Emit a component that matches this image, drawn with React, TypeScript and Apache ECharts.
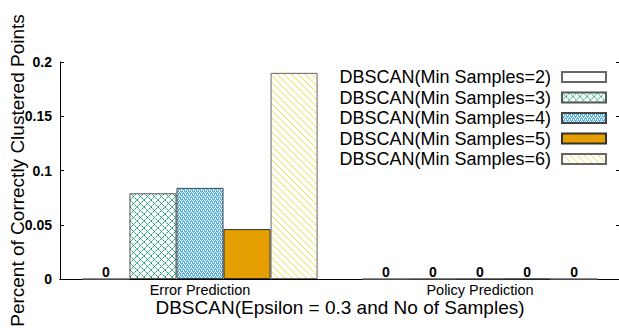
import React, { useEffect, useRef } from "react";
import * as echarts from "echarts";

const categories = ["Error Prediction", "Policy Prediction"];
const seriesNames = [
  "DBSCAN(Min Samples=2)",
  "DBSCAN(Min Samples=3)",
  "DBSCAN(Min Samples=4)",
  "DBSCAN(Min Samples=5)",
  "DBSCAN(Min Samples=6)",
];
const ms2 = [0, 0];
const ms3 = [0.079, 0];
const ms4 = [0.084, 0];
const ms5 = [0.046, 0];
const ms6 = [0.19, 0];
const yTicks = [0, 0.05, 0.1, 0.15, 0.2];
const xTitle = "DBSCAN(Epsilon = 0.3 and No of Samples)";
const yTitle = "Percent of Correctly Clustered Points";

function makeTile(size: number, draw: (set: (x: number, y: number, c: number[]) => void) => void, bg: number[]) {
  const c = document.createElement("canvas");
  c.width = size;
  c.height = size;
  const ctx = c.getContext("2d")!;
  const img = ctx.createImageData(size, size);
  const set = (x: number, y: number, col: number[]) => {
    const xx = ((x % size) + size) % size;
    const yy = ((y % size) + size) % size;
    const i = (yy * size + xx) * 4;
    img.data[i] = col[0];
    img.data[i + 1] = col[1];
    img.data[i + 2] = col[2];
    img.data[i + 3] = 255;
  };
  for (let y = 0; y < size; y++) for (let x = 0; x < size; x++) set(x, y, bg);
  draw(set);
  ctx.putImageData(img, 0, 0);
  return c;
}

export default function App() {
  const ref = useRef<HTMLDivElement>(null);
  useEffect(() => {
    if (!ref.current) return;
    const chart = echarts.init(ref.current, undefined, { renderer: "svg" });
    const white = [255, 255, 255];
    const green = [20, 160, 115];
    const lightGreen = [120, 200, 170];
    const blue = [86, 180, 233];
    const yellow = [240, 228, 66];

    const greenTile = makeTile(7, (set) => {
      for (let i = 0; i < 7; i++) {
        const col = i % 2 === 0 ? green : lightGreen;
        set(i, i, col);
        set(i, 7 - i, col);
      }
    }, white);
    const blueTile = makeTile(4, (set) => {
      set(0, 0, white);
      set(2, 0, white);
      set(1, 1, white);
      set(1, 2, white);
      set(3, 2, white);
      set(3, 3, white);
    }, blue);
    const yellowTile = makeTile(7, (set) => {
      for (let i = 0; i < 7; i++) {
        set(i, i, yellow);
      }
    }, white);

    const fills: any[] = [
      "#ffffff",
      { image: greenTile, repeat: "repeat" },
      { image: blueTile, repeat: "repeat" },
      "#e69f00",
      { image: yellowTile, repeat: "repeat" },
    ];
    const borders = ["#666", "#555", "#444", "#333", "#666"];
    const datasets = [ms2, ms3, ms4, ms5, ms6];

    chart.setOption({
      animation: false,
      backgroundColor: "#ffffff",
      textStyle: { fontFamily: "Liberation Sans, Arial, sans-serif", color: "#000" },
      grid: { left: 60, right: -1, top: 62, bottom: 51, containLabel: false, outerBoundsMode: "none" },
      legend: {
        orient: "vertical",
        right: 7,
        top: 63,
        align: "right",
        itemWidth: 44,
        itemHeight: 10,
        itemGap: 2.5,
        icon: "rect",
        textStyle: { fontSize: 18, color: "#000", padding: [0, 6, 0, 0] },
        data: seriesNames,
      },
      xAxis: [
        {
          type: "category",
          data: categories,
          position: "bottom",
          axisLine: { lineStyle: { color: "#000", width: 1 } },
          axisTick: { inside: true, alignWithLabel: true, length: 4, lineStyle: { color: "#000" } },
          axisLabel: { fontSize: 14.5, color: "#000", margin: 3, lineHeight: 15 },
          name: xTitle,
          nameLocation: "middle",
          nameGap: 18,
          nameMoveOverlap: false,
          nameTextStyle: { fontSize: 19, color: "#000", lineHeight: 20 },
        },
        {
          type: "category",
          data: categories,
          position: "top",
          axisLine: { lineStyle: { color: "#000", width: 1 } },
          axisTick: { inside: true, alignWithLabel: true, length: 4, lineStyle: { color: "#000" } },
          axisLabel: { show: false },
        },
      ],
      yAxis: [
        {
          type: "value",
          min: yTicks[0],
          max: yTicks[yTicks.length - 1],
          interval: yTicks[1] - yTicks[0],
          axisLine: { show: true, lineStyle: { color: "#000", width: 1 } },
          axisTick: { show: true, inside: true, length: 4, lineStyle: { color: "#000" } },
          axisLabel: { fontSize: 14, fontWeight: "bold", color: "#000", margin: 8 },
          splitLine: { show: false },
          name: yTitle,
          nameLocation: "middle",
          nameGap: 33,
          nameMoveOverlap: false,
          nameTextStyle: { fontSize: 19, color: "#000" },
        },
        {
          type: "value",
          position: "right",
          min: yTicks[0],
          max: yTicks[yTicks.length - 1],
          interval: yTicks[1] - yTicks[0],
          axisLine: { show: true, lineStyle: { color: "#000", width: 1 } },
          axisTick: { show: true, inside: true, length: 4, lineStyle: { color: "#000" } },
          axisLabel: { show: false },
          splitLine: { show: false },
        },
      ],
      series: seriesNames.map((name, k) => ({
        name,
        type: "bar",
        xAxisIndex: 0,
        yAxisIndex: 0,
        data: datasets[k],
        barGap: "0%",
        barCategoryGap: "16%",
        itemStyle: { color: fills[k], borderColor: borders[k], borderWidth: 1 },
        label: {
          show: true,
          position: "top",
          distance: 0,
          fontSize: 14,
          fontWeight: "bold",
          color: "#000",
          formatter: (p: any) => (p.value === 0 ? "0" : ""),
        },
      })),
    });
    return () => chart.dispose();
  }, []);
  return (
    <div
      ref={ref}
      style={{ position: "absolute", left: 0, top: 0, width: 619, height: 330 }}
    />
  );
}
